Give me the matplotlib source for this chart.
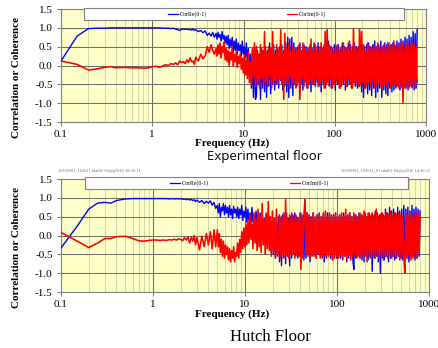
import numpy as np
import matplotlib
matplotlib.use("Agg")
import matplotlib.pyplot as plt
from matplotlib.patches import Rectangle
from matplotlib.lines import Line2D
from matplotlib.ticker import LogLocator, NullFormatter

plt.rcParams["font.family"] = "Liberation Serif"
plt.rcParams["axes.unicode_minus"] = False

# --- data ---
f_lo = [0.1, 0.15, 0.2, 0.25, 0.3, 0.35, 0.4, 0.5, 0.6, 0.7,
        0.8, 0.9, 1.0, 1.1, 1.2, 1.3, 1.4, 1.5, 1.6, 1.7,
        1.8, 1.9, 2.0, 2.1, 2.2, 2.3, 2.4, 2.5, 2.6, 2.7,
        2.8, 2.9, 3.0, 3.2, 3.4, 3.6, 3.8, 4.0, 4.2, 4.4,
        4.6, 4.8]
f_hi = np.geomspace(5, 800, 200)   # noisy part, 5-800 Hz

# experimental floor
re1_lo = [0.12, 0.78, 0.98, 0.99, 0.99, 1.0, 1.0, 1.0, 1.0, 1.0,
          1.0, 1.0, 1.0, 1.0, 1.0, 0.99, 0.99, 0.99, 0.98, 0.99,
          0.97, 0.95, 0.93, 0.96, 0.97, 0.96, 0.97, 0.95, 0.96, 0.94,
          0.97, 0.93, 0.95, 0.9, 0.93, 0.87, 0.92, 0.8, 0.86, 0.78,
          0.88, 0.75]
im1_lo = [0.12, 0.03, -0.12, -0.09, -0.05, -0.03, -0.06, -0.05, -0.06, -0.06,
          -0.07, -0.06, -0.03, -0.02, -0.05, -0.01, 0.02, 0.0, 0.05, 0.03,
          0.07, 0.02, 0.12, 0.08, 0.1, 0.05, 0.15, 0.08, 0.2, 0.1,
          0.12, 0.03, 0.22, 0.12, 0.3, 0.18, 0.25, 0.5, 0.35, 0.55,
          0.4, 0.3]
re1_hi = [
    0.85, 0.7, 0.88, 0.75, 0.82, 0.65, 0.9, 0.7, 0.8, 0.6, 0.78, 0.55, 0.8, 0.45, 0.7, 0.5, 0.75, 0.35, 0.65, 0.4,
    0.7, 0.3, 0.6, 0.4, 0.55, 0.25, 0.65, 0.3, 0.5, 0.2, 0.6, 0.1, 0.45, -0.2, 0.3, -0.6, 0.4, -0.85, 0.5, -0.9,
    -0.8, 0.4, -0.5, 0.3, -0.9, 0.45, -0.6, 0.35, -0.7, 0.5, -0.85, 0.4, -0.55, 0.6, -0.75, 0.45, -0.5, 0.55, -0.65, 0.4,
    -0.5, 0.45, -0.6, 0.5, -0.4, 0.55, -0.65, 0.4, -0.55, 0.6, -0.7, 0.75, -0.85, 0.7, -0.6, 0.75, -0.8, 0.6, -0.5, 0.45,
    -0.55, 0.5, -0.45, 0.6, -0.5, 0.4, -0.65, 0.55, -0.45, 0.5, -0.6, 0.45, -0.5, 0.55, -0.7, 0.45, -0.5, 0.6, -0.55, 0.4,
    -0.45, 0.6, -0.55, 0.5, -0.7, 0.45, -0.5, 0.55, -0.6, 0.5, -0.45, 0.65, -0.55, 0.5, -0.6, 0.45, -0.5, 0.55, -0.65, 0.5,
    -0.5, 0.55, -0.6, 0.45, -0.55, 0.6, -0.5, 0.5, -0.65, 0.45, -0.55, 0.6, -0.5, 0.55, -0.6, 0.5, -0.45, 0.6, -0.55, 0.5,
    -0.6, 0.5, -0.55, 0.6, -0.7, 0.55, -0.85, 0.5, -0.6, 0.55, -0.75, 0.6, -0.65, 0.5, -0.8, 0.55, -0.6, 0.65, -0.85, 0.5,
    -0.7, 0.55, -0.6, 0.65, -0.85, 0.5, -0.65, 0.6, -0.75, 0.55, -0.8, 0.6, -0.6, 0.55, -0.7, 0.6, -0.65, 0.55, -0.6, 0.65,
    -0.55, 0.6, -0.65, 0.7, -0.6, 0.65, -0.55, 0.75, -0.6, 0.7, -0.65, 0.8, -0.55, 0.75, -0.6, 0.9, -0.65, 0.85, -0.6, 0.95,
]
im1_hi = [
    0.45, 0.25, 0.55, 0.3, 0.6, 0.2, 0.5, 0.35, 0.62, 0.15, 0.45, 0.1, 0.4, 0.0, 0.35, 0.15, 0.5, -0.02, 0.3, 0.1,
    0.35, -0.05, 0.25, 0.05, 0.3, -0.1, 0.2, -0.2, 0.3, -0.25, 0.15, -0.35, 0.35, -0.45, 0.1, -0.5, 0.45, -0.3, 0.6, -0.55,
    0.5, -0.4, 0.3, -0.6, 0.55, -0.35, 0.4, -0.5, 0.9, -0.45, 0.35, -0.55, 0.5, -0.3, 0.45, -0.6, 0.9, -0.4, 0.3, -0.5,
    0.55, -0.45, 0.4, -0.35, 0.95, -0.5, 0.35, -0.9, 0.85, -0.4, 0.45, -0.55, 0.6, -0.3, 0.4, -0.5, 0.5, -0.45, 0.35, -0.6,
    0.45, -0.4, 0.55, -0.9, 0.4, -0.35, 0.6, -0.55, 0.5, -0.45, 0.35, -0.6, 0.45, -0.4, 0.7, -0.5, 0.4, -0.45, 0.55, -0.35,
    0.5, -0.55, 0.4, -0.45, 0.6, -0.4, 0.45, -0.6, 0.9, -0.5, 0.95, -0.45, 0.55, -0.35, 0.5, -0.6, 0.4, -0.5, 0.45, -0.4,
    0.55, -0.5, 0.4, -0.6, 0.5, -0.45, 0.6, -0.4, 0.45, -0.55, 0.5, -0.35, 0.65, -0.5, 0.4, -0.6, 0.98, -0.45, 0.5, -0.4,
    0.45, -0.55, 0.98, -0.5, 0.9, -0.45, 0.55, -0.6, 0.4, -0.5, 0.6, -0.45, 0.5, -0.55, 0.45, -0.4, 0.55, -0.6, 0.5, -0.5,
    0.6, -0.45, 0.45, -0.55, 0.5, -0.6, 0.55, -0.5, 0.45, -0.55, 0.6, -0.45, 0.5, -0.6, 0.55, -0.5, 0.65, -0.5, 0.5, -0.55,
    0.5, -0.6, 0.55, -0.5, 0.6, -1.0, 0.45, -0.6, 0.6, -0.5, 0.55, -0.6, 0.5, -0.55, 0.6, -0.5, 0.55, -0.6, 0.5, -0.45,
]

# hutch floor
re2_lo = [-0.33, 0.25, 0.7, 0.86, 0.88, 0.86, 0.93, 0.97, 0.98, 0.98,
          0.98, 0.98, 0.98, 0.98, 0.98, 0.98, 0.98, 0.97, 0.98, 0.97,
          0.98, 0.97, 0.98, 0.96, 0.97, 0.95, 0.97, 0.94, 0.96, 0.93,
          0.95, 0.9, 0.94, 0.88, 0.93, 0.85, 0.91, 0.86, 0.92, 0.8,
          0.88, 0.72]
im2_lo = [0.08, -0.15, -0.32, -0.2, -0.08, -0.08, -0.03, -0.02, -0.08, -0.14,
          -0.15, -0.13, -0.12, -0.12, -0.13, -0.12, -0.13, -0.11, -0.12, -0.1,
          -0.12, -0.09, -0.1, -0.14, -0.06, -0.12, -0.04, -0.2, -0.05, -0.15,
          0.0, -0.25, -0.05, -0.38, -0.02, -0.3, 0.05, -0.25, 0.1, -0.35,
          0.15, -0.3]
re2_hi = [
    0.8, 0.6, 0.85, 0.5, 0.75, 0.65, 0.85, 0.55, 0.8, 0.6, 0.75, 0.5, 0.8, 0.55, 0.7, 0.45, 0.78, 0.6, 0.7, 0.5,
    0.75, 0.45, 0.7, 0.55, 0.8, 0.4, 0.65, 0.5, 0.75, 0.35, 0.7, 0.4, 0.6, 0.3, 0.75, 0.35, 0.55, 0.25, 0.65, 0.3,
    0.55, 0.2, 0.6, 0.1, 0.5, 0.25, 0.45, 0.0, 0.55, -0.1, 0.4, -0.3, 0.5, -0.45, 0.35, -0.5, 0.3, -0.6, 0.45, -0.55,
    0.5, -0.7, 0.45, -0.8, 0.55, -0.6, 0.5, -0.75, 0.6, -0.55, 0.45, -0.8, 0.5, -0.6, 0.55, -0.5, 0.6, -0.55, 0.5, -0.6,
    0.45, -0.55, 0.6, -0.5, 0.55, -0.65, 0.5, -0.6, 0.6, -0.5, 0.55, -0.7, 0.5, -0.55, 0.6, -0.5, 0.45, -0.6, 0.55, -0.5,
    0.6, -0.55, 0.5, -0.6, 0.55, -0.7, 0.45, -0.55, 0.6, -0.5, 0.55, -0.6, 0.5, -0.65, 0.55, -0.5, 0.6, -0.6, 0.5, -0.55,
    0.55, -0.6, 0.5, -0.65, 0.6, -0.55, 0.5, -0.7, 0.55, -0.6, 0.6, -0.55, 0.5, -0.65, -0.9, 0.55, -0.6, 0.5, -0.55, 0.6,
    -0.6, 0.55, -0.65, 0.5, -0.7, 0.6, -0.55, 0.5, -0.65, 0.6, -0.6, 0.55, -0.95, 0.5, -0.6, 0.65, -0.55, 0.6, -0.7, 0.55,
    -1.0, 0.6, -0.6, 0.55, -0.65, 0.7, -0.55, 0.6, -0.7, 0.75, -0.6, 0.65, -0.55, 0.7, -0.65, 0.6, -0.6, 0.75, -0.55, 0.65,
    -0.6, 0.7, -0.65, 0.8, -0.55, 0.7, -0.6, 0.75, -0.7, 0.65, -0.6, 0.8, -0.55, 0.7, -0.65, 0.75, -0.6, 0.7, -0.55, 0.65,
]
im2_hi = [
    0.15, -0.3, 0.05, -0.45, -0.1, -0.55, -0.15, -0.6, -0.25, -0.5, -0.3, -0.65, -0.35, -0.7, -0.4, -0.6, -0.3, -0.7, -0.45, -0.55,
    -0.2, -0.6, -0.1, -0.45, 0.1, -0.35, 0.2, -0.3, 0.3, -0.25, 0.4, -0.2, 0.55, -0.1, 0.3, -0.35, 0.6, -0.2, 0.45, -0.4,
    0.7, -0.3, 0.5, -0.45, 0.85, -0.25, 0.4, -0.5, 0.6, -0.35, 0.9, -0.4, 0.5, -0.55, 0.65, -0.45, 0.45, -0.6, 0.7, -0.5,
    -0.45, 0.55, -0.6, 0.5, -0.5, 0.6, -0.55, 0.95, -0.5, 0.45, -0.6, 0.55, -0.5, 0.6, -0.45, 0.5, -0.6, 0.55, -0.5, 0.45,
    -0.55, 0.6, -0.9, 0.5, -0.6, 0.55, 0.95, -0.5, 0.6, -0.55, 0.5, -0.6, 0.45, -0.5, 0.6, -0.55, 0.5, -0.6, 0.55, -0.45,
    0.55, -0.6, 0.5, -0.55, 0.6, -0.5, 0.65, -0.6, 0.5, -0.55, 0.6, -0.5, 0.55, -0.65, 0.5, -0.6, 0.6, -0.55, 0.5, -0.6,
    0.55, -0.5, 0.6, -0.6, 0.5, -0.55, 0.7, -0.6, 0.55, -0.5, 0.6, -0.65, 0.5, -0.55, 0.6, -0.5, 0.55, -0.6, 0.5, -0.55,
    0.6, -0.6, 0.55, -0.5, 0.65, -0.55, 0.5, -0.7, 0.6, -0.55, 0.5, -0.6, 0.6, -0.5, 0.55, -0.6, 0.7, -0.55, 0.5, -0.6,
    0.55, -0.5, 0.6, -0.65, 0.5, -0.55, 0.6, -0.6, 0.55, -0.5, 0.65, -0.6, 0.5, -0.55, 0.6, -0.6, 0.55, -0.5, 0.6, -0.65,
    0.55, -0.6, 0.5, -0.55, -1.0, 0.6, -0.6, 0.55, -0.5, 0.6, -0.65, 0.55, -0.6, 0.5, -0.55, 0.6, -0.6, 0.55, -0.45, 0.5,
]

for arr in (re1_lo, im1_lo, re2_lo, im2_lo):
    assert len(arr) == len(f_lo), len(arr)
for arr in (re1_hi, im1_hi, re2_hi, im2_hi):
    assert len(arr) == len(f_hi), len(arr)

freq = np.concatenate([f_lo, f_hi])
YTICKS = [-1.5, -1.0, -0.5, 0.0, 0.5, 1.0, 1.5]
XTICKS = [0.1, 1, 10, 100, 1000]
XLABELS = ["0.1", "1", "10", "100", "1000"]
BLUE, RED = "#0000FF", "#FF0000"

fig = plt.figure(figsize=(4.38, 3.48), dpi=100)
ax1 = fig.add_axes([0.1393, 0.6494, 0.8333, 0.3247])
ax2 = fig.add_axes([0.1393, 0.1609, 0.8402, 0.3247])


def style(ax):
    ax.set_facecolor("#FFFFC8")
    ax.set_xscale("log")
    ax.set_xlim(0.1, 1000)
    ax.set_ylim(-1.5, 1.5)
    ax.set_xticks(XTICKS, XLABELS)
    ax.set_yticks(YTICKS, [f"{v:.1f}" for v in YTICKS])
    ax.xaxis.set_minor_locator(LogLocator(base=10, subs=range(2, 10)))
    ax.xaxis.set_minor_formatter(NullFormatter())
    ax.grid(which="minor", axis="x", color="#c4c4a4", lw=0.5)
    ax.grid(which="major", color="#6e6e6e", lw=0.75)
    ax.set_axisbelow(True)
    ax.tick_params(which="major", length=3, width=0.6, color="#606060", labelsize=8, pad=3)
    ax.tick_params(which="minor", length=0)
    for s in ax.spines.values():
        s.set_color("#808080")
        s.set_linewidth(0.8)


def legend_box(ax, x0, x1, y0, y1, bx, rx, yc):
    ax.add_patch(Rectangle((x0, y0), x1 - x0, y1 - y0, transform=ax.transAxes,
                           facecolor="white", edgecolor="#808080", lw=0.8,
                           clip_on=False, zorder=5))
    for xs, c, lab in [(bx, BLUE, "CorRe(0-1)"), (rx, RED, "CorIm(0-1)")]:
        ax.add_line(Line2D([xs, xs + 0.028], [yc, yc], transform=ax.transAxes,
                           color=c, lw=0.9, clip_on=False, zorder=6))
        ax.text(xs + 0.031, yc, lab, transform=ax.transAxes, fontsize=4.2,
                va="center", ha="left", zorder=6)


for ax, re_lo, re_hi, im_lo, im_hi in [(ax1, re1_lo, re1_hi, im1_lo, im1_hi),
                                       (ax2, re2_lo, re2_hi, im2_lo, im2_hi)]:
    style(ax)
    ax.plot(freq, np.concatenate([re_lo, re_hi]), color=BLUE, lw=1.0, zorder=3)
    ax.plot(freq, np.concatenate([im_lo, im_hi]), color=RED, lw=1.15, zorder=4)

legend_box(ax1, 0.063, 0.94, 0.903, 1.009, 0.293, 0.619, 0.956)
legend_box(ax2, 0.065, 0.943, 0.912, 1.018, 0.296, 0.622, 0.962)

# axis labels and captions
for yc in (77, 247):
    fig.text(17 / 438, 1 - yc / 348, "Correlation or Coherence", rotation=90,
             fontsize=8, fontweight="bold", ha="center", va="center")
for yc in (143, 314):
    fig.text(232 / 438, 1 - yc / 348, "Frequency (Hz)", fontsize=8,
             fontweight="bold", ha="center", va="center")
fig.text(265 / 438, 1 - 157 / 348, "Experimental floor", family="Open Sans",
         fontsize=9.5, ha="center", va="center")
fig.text(270 / 438, 1 - 337 / 348, "Hutch Floor", fontsize=12,
         ha="center", va="center")
fig.text(58 / 438, 1 - 171 / 348, "20160301_102611.tdat01-04@p2016 10:26:11",
         fontsize=3.2, color="#707070", ha="left", va="center")
fig.text(430 / 438, 1 - 171 / 348, "20160301_102611_01.tdat01-04@p2016 14:46:12",
         fontsize=3.2, color="#707070", ha="right", va="center")

fig.savefig("out.png", dpi=100)
